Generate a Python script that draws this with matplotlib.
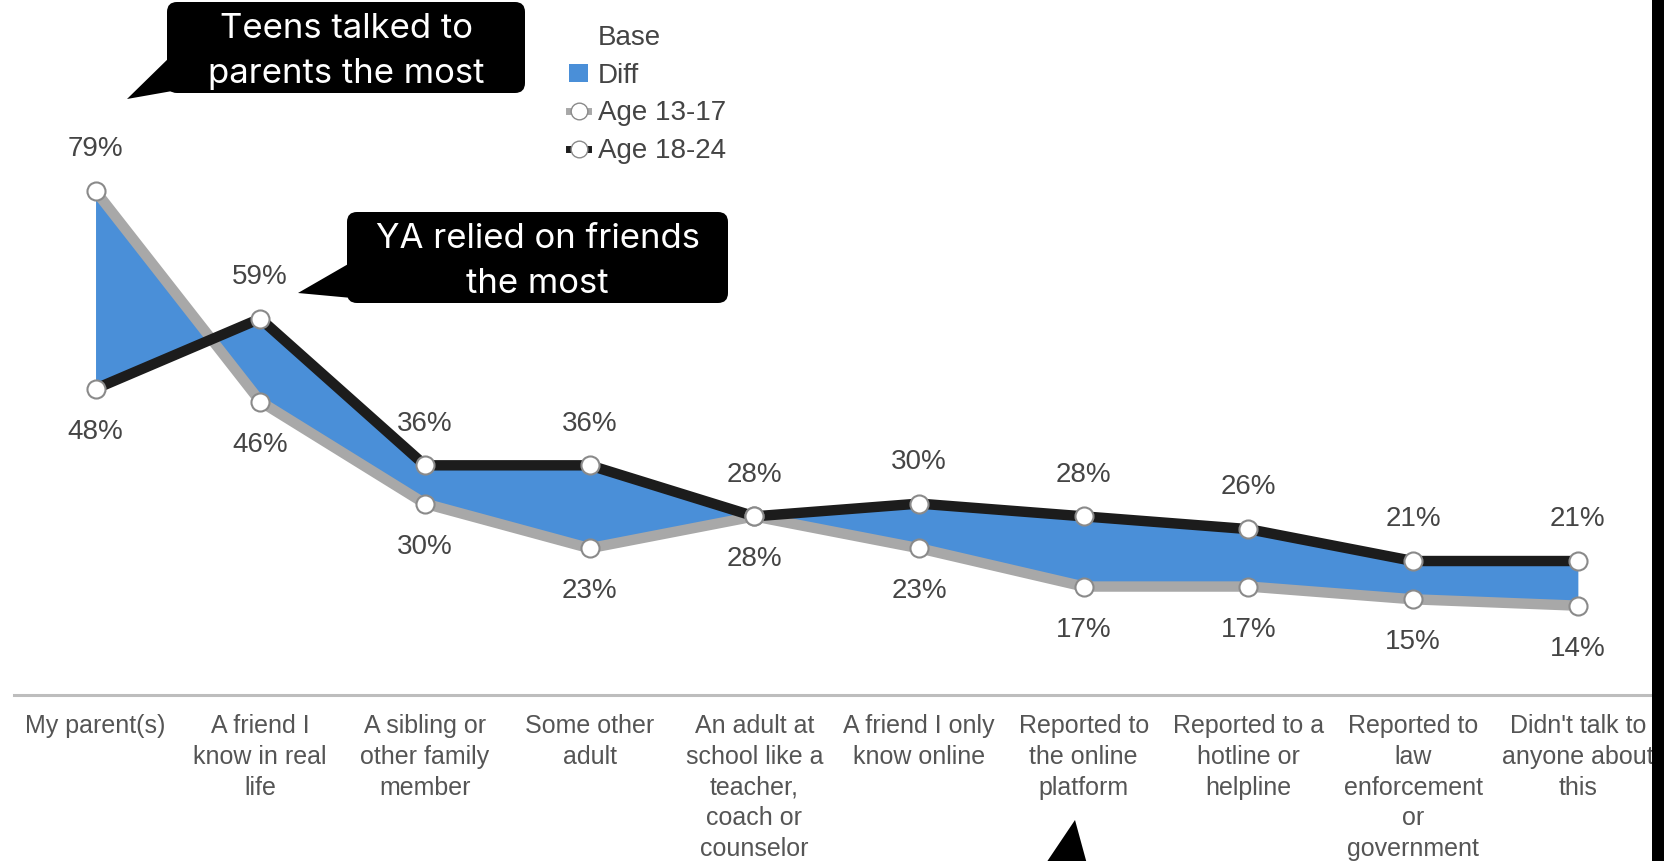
import matplotlib.pyplot as plt
from matplotlib.patches import Patch, FancyBboxPatch, Polygon, Rectangle
from matplotlib.lines import Line2D

# who they talked to, share of each age group
categories = [
    "My parent(s)",
    "A friend I\nknow in real\nlife",
    "A sibling or\nother family\nmember",
    "Some other\nadult",
    "An adult at\nschool like a\nteacher,\ncoach or\ncounselor",
    "A friend I only\nknow online",
    "Reported to\nthe online\nplatform",
    "Reported to a\nhotline or\nhelpline",
    "Reported to\nlaw\nenforcement\nor\ngovernment",
    "Didn't talk to\nanyone about\nthis",
]
teens = [79, 46, 30, 23, 28, 23, 17, 17, 15, 14]      # Age 13-17
young_adults = [48, 59, 36, 36, 28, 30, 28, 26, 21, 21]  # Age 18-24

W, H = 1664, 861
fig = plt.figure(figsize=(W / 100, H / 100), dpi=100)
plt.rcParams['font.family'] = ['Liberation Sans', 'DejaVu Sans']

blue = "#4a8fd8"
grey_line = "#a8a8a8"
dark_line = "#1c1c1c"
label_col = "#454545"

# main axes, bottom spine is the baseline at 0%
px_per_pt = 6.38
ax = fig.add_axes([14 / W, (H - 695) / H, (W - 14) / W, 695 / H])
ax.set_xlim(-0.495, 9.523)
ax.set_ylim(0, 695 / px_per_pt)
x = list(range(len(categories)))

ax.fill_between(x, teens, young_adults, color=blue, interpolate=True, lw=0, zorder=1)
ax.plot(x, teens, color=grey_line, lw=7.5, solid_joinstyle="round", zorder=2)
ax.plot(x, young_adults, color=dark_line, lw=7.5, solid_joinstyle="round", zorder=3)
for series in (teens, young_adults):
    ax.plot(x, series, ls="none", marker="o", ms=13, mfc="white", mec="#8a8a8a",
            mew=1.5, zorder=4)

# value labels: the higher value goes above, the lower below
for i in x:
    a, b = teens[i], young_adults[i]
    hi, lo = max(a, b), min(a, b)
    ax.annotate(f"{hi}%", (i, hi), xytext=(0, 30), textcoords="offset points",
                ha="center", va="center", fontsize=20, color=label_col)
    ax.annotate(f"{lo}%", (i, lo), xytext=(0, -31), textcoords="offset points",
                ha="center", va="center", fontsize=20, color=label_col)

for s in ("top", "right", "left"):
    ax.spines[s].set_visible(False)
ax.spines["bottom"].set_color("#bdbdbd")
ax.spines["bottom"].set_linewidth(2.2)
ax.set_yticks([])
ax.set_xticks(x)
ax.set_xticklabels(categories, fontsize=18, color="#555555", linespacing=1.35,
                   va="top")
ax.tick_params(axis="x", length=0, pad=14)

# legend
handles = [
    Patch(facecolor="none", edgecolor="none"),
    Patch(facecolor=blue, edgecolor="none"),
    Line2D([], [], color=grey_line, lw=5, marker="o", ms=12, mfc="white", mec="#8a8a8a"),
    Line2D([], [], color=dark_line, lw=5, marker="o", ms=12, mfc="white", mec="#8a8a8a"),
]
leg = fig.legend(handles, ["Base", "Diff", "Age 13-17", "Age 18-24"],
                 loc="upper left", bbox_to_anchor=(569 / W, 1 - 25 / H),
                 frameon=False, fontsize=20, handlelength=0.7, handleheight=0.6,
                 handletextpad=0.35, labelspacing=0.42, borderpad=0, borderaxespad=0)
for t in leg.get_texts():
    t.set_color("#444444")

# overlay in pixel coordinates for the callouts
ov = fig.add_axes([0, 0, 1, 1], zorder=10)
ov.set_xlim(0, W)
ov.set_ylim(H, 0)
ov.axis("off")


def callout(x0, y0, x1, y1, tail, text):
    ov.add_patch(Polygon(tail, closed=True, color="black", lw=0))
    ov.add_patch(FancyBboxPatch((x0, y0), x1 - x0, y1 - y0,
                                boxstyle="round,pad=0,rounding_size=10",
                                fc="black", ec="none"))
    ov.text((x0 + x1) / 2, (y0 + y1) / 2 + 4, text, color="white", fontsize=25,
            family=["Inter", "DejaVu Sans"], ha="center", va="center",
            linespacing=1.55)


callout(167, 2, 525, 93, [(172, 55), (178, 90), (127, 99)],
        "Teens talked to\nparents the most")
callout(347, 212, 728, 303, [(350, 263), (352, 298), (298, 293)],
        "YA relied on friends\nthe most")

# pointer of a callout below the frame
ov.add_patch(Polygon([(1075, 820), (1038, 875), (1090, 875)], closed=True,
                     color="black", lw=0))
# dark strip along the right edge
ov.add_patch(Rectangle((1652, 0), 20, H, color="black", lw=0))

fig.savefig("out.png", dpi=100)
